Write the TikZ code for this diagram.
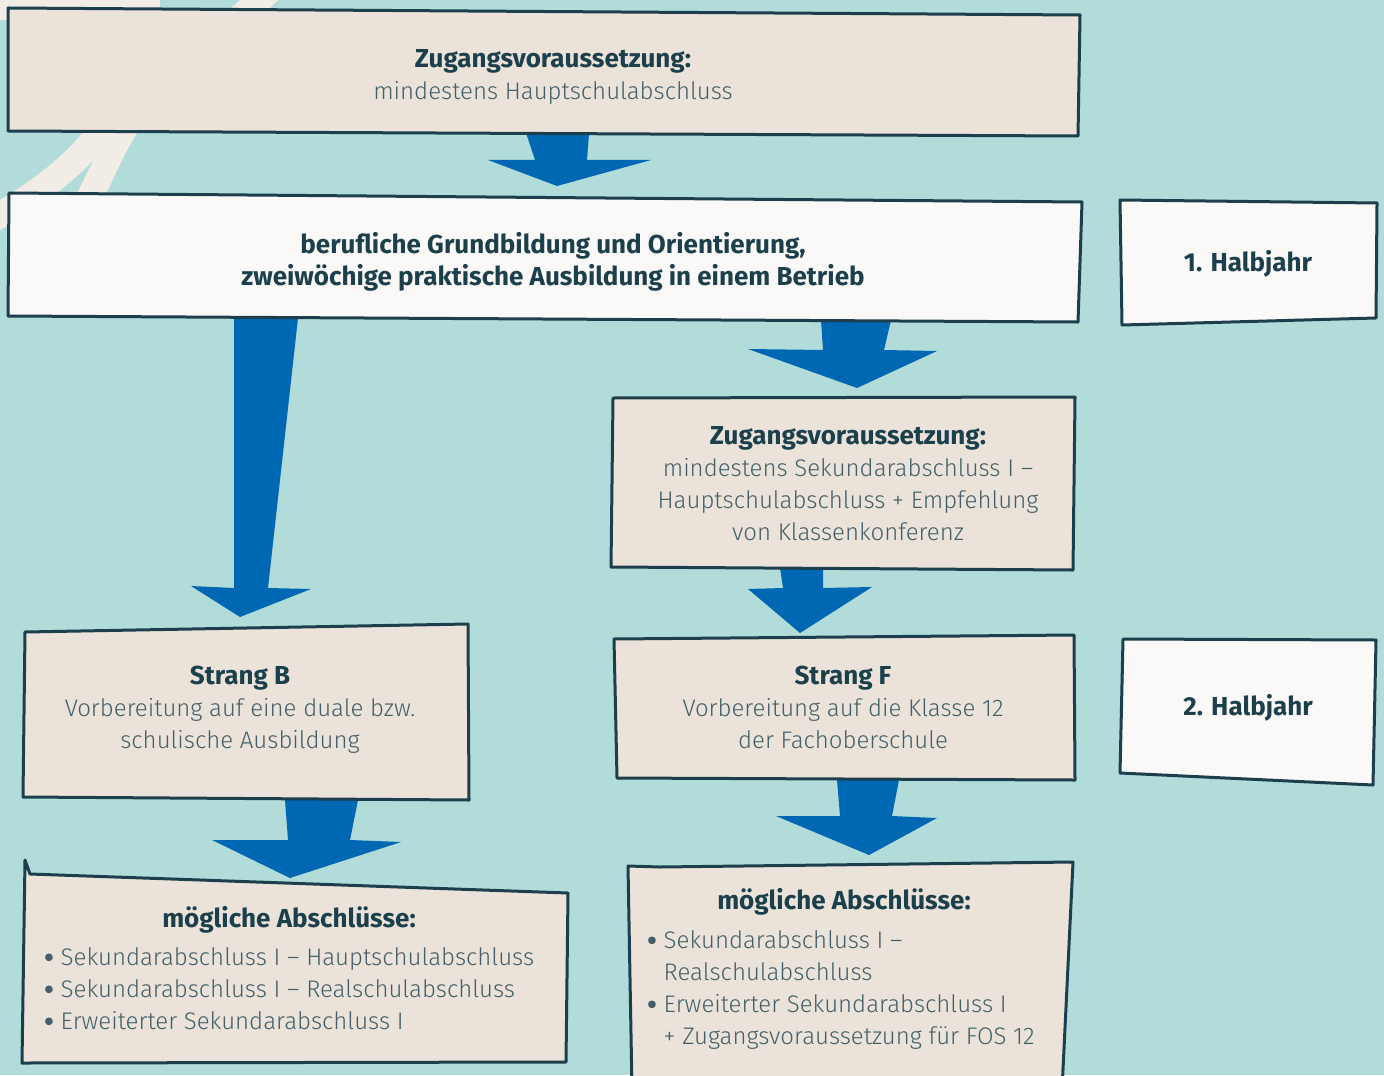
\documentclass[tikz,border=0pt]{standalone}
\usepackage{fontspec}
\setmainfont{Fira Sans}[UprightFont=* Light, BoldFont=* Bold]
\newfontfamily\symbolfont{DejaVu Sans}
\usetikzlibrary{positioning}
\definecolor{bgteal}{HTML}{B1DCDA}
\definecolor{decor}{HTML}{F2ECE6}
\definecolor{boxbeige}{HTML}{EBE3D9}
\definecolor{boxwhite}{HTML}{FAF9F7}
\definecolor{boxline}{HTML}{1D3F4D}
\definecolor{headtext}{HTML}{1C3F4C}
\definecolor{bodytext}{HTML}{43606A}
\definecolor{arrowblue}{HTML}{0068B2}
\tikzstyle{beigebox}=[draw=boxline,fill=boxbeige,line width=1.5pt,line join=round]
\tikzstyle{whitebox}=[beigebox,fill=boxwhite]
\tikzstyle{flowarrow}=[fill=arrowblue]
\tikzstyle{decorband}=[draw=decor,line width=13pt]
\tikzstyle{textblock}=[align=center,inner sep=0pt,text=bodytext,font=\fontsize{12}{16}\selectfont]
\tikzstyle{listblock}=[textblock,align=left,anchor=west]
\tikzstyle{halbjahr}=[textblock,text=headtext,font=\bfseries\fontsize{13}{16}\selectfont]
\newcommand{\boxhead}[1]{{\bfseries\fontsize{13}{16}\selectfont\color{headtext}#1}}
\newcommand{\listbullet}{\raisebox{-1pt}{\symbolfont\fontsize{13}{16}\selectfont •}\hspace{2pt}}
\newcommand{\listindent}{\phantom{\listbullet}}

\begin{document}
\begin{tikzpicture}[x=0.5pt,y=-0.5pt]
  \useasboundingbox (0,0) rectangle (1384,1075);
  \fill[bgteal] (0,0) rectangle (1384,1075);

  % background strokes
  \fill[decor] (0,0) rectangle (160,20);
  \draw[decorband] (80,215) .. controls (100,180) and (110,150) .. (130,120) .. controls (170,70) and (230,30) .. (275,-15);
  \draw[decorband] (-30,232) .. controls (30,200) and (80,165) .. (106,122) .. controls (120,95) and (130,60) .. (135,20);

  % arrows
  \fill[flowarrow] (526,133) -- (535,160) -- (488,160) -- (557,186) -- (651,160) -- (587,160) -- (589,133) -- cycle;
  \fill[flowarrow] (234,318) -- (234,588) -- (191,586) -- (240,617) -- (311,589) -- (268,588) -- (298,318) -- cycle;
  \fill[flowarrow] (821,320) -- (823,350) -- (748,349) -- (857,388) -- (937,351) -- (884,350) -- (891,320) -- cycle;
  \fill[flowarrow] (780,568) -- (783,588) -- (748,589) -- (800,633) -- (872,587) -- (823,588) -- (823,568) -- cycle;
  \fill[flowarrow] (285,800) -- (288,840) -- (212,840) -- (290,878) -- (401,842) -- (350,840) -- (358,800) -- cycle;
  \fill[flowarrow] (837,780) -- (840,816) -- (776,816) -- (869,855) -- (937,818) -- (892,816) -- (899,780) -- cycle;

  % boxes
  \draw[beigebox] (8,8) -- (1080,15) -- (1078,136) -- (8,131) -- cycle;
  \draw[whitebox] (9,193) -- (1082,202) -- (1078,322) -- (8,316) -- cycle;
  \draw[whitebox] (1120,200) -- (1377,203) -- (1376,318) -- (1122,325) -- cycle;
  \draw[beigebox] (613,398) -- (1075,397) -- (1073,570) -- (611,567) -- cycle;
  \draw[beigebox] (25,632) -- (468,624) -- (469,800) -- (23,797) -- cycle;
  \draw[beigebox] (614,639) -- (1074,635) -- (1075,780) -- (617,778) -- cycle;
  \draw[whitebox] (1123,639) -- (1376,640) -- (1373,785) -- (1120,773) -- cycle;
  \draw[beigebox] (25,860) -- (30,874) -- (568,893) -- (566,1062) -- (22,1063) -- cycle;
  \draw[beigebox] (628,866) -- (660,867) -- (1073,862) -- (1062,1090) -- (632,1090) -- cycle;

  % texts
  \node[textblock] (zugang) at (553,77)
    {\boxhead{Zugangsvoraussetzung:}\\mindestens Hauptschulabschluss};
  \node[halbjahr] (grundbildung) at (553,262)
    {berufliche Grundbildung und Orientierung,\\zweiwöchige praktische Ausbildung in einem Betrieb};
  \node[halbjahr] (halbjahrA) at (1248,264) {1. Halbjahr};
  \node[textblock] (zugangF) at (848,484)
    {\boxhead{Zugangsvoraussetzung:}\\mindestens Sekundarabschluss I –\\Hauptschulabschluss + Empfehlung\\von Klassenkonferenz};
  \node[textblock] (strangB) at (240,710)
    {\boxhead{Strang B}\\Vorbereitung auf eine duale bzw.\\schulische Ausbildung};
  \node[textblock] (strangF) at (843,707)
    {\boxhead{Strang F}\\Vorbereitung auf die Klasse 12\\der Fachoberschule};
  \node[halbjahr] (halbjahrB) at (1248,708) {2. Halbjahr};
  \node[textblock] (abschlussBhead) at (289,920) {\boxhead{mögliche Abschlüsse:}};
  \node[listblock] (abschlussB) at (41,990)
    {\listbullet Sekundarabschluss I – Hauptschulabschluss\\\listbullet Sekundarabschluss I – Realschulabschluss\\\listbullet Erweiterter Sekundarabschluss I};
  \node[textblock] (abschlussFhead) at (844,902) {\boxhead{mögliche Abschlüsse:}};
  \node[listblock] (abschlussF) at (644,990)
    {\listbullet Sekundarabschluss I –\\\listindent Realschulabschluss\\\listbullet Erweiterter Sekundarabschluss I\\\listindent + Zugangsvoraussetzung für FOS 12};
\end{tikzpicture}
\end{document}
